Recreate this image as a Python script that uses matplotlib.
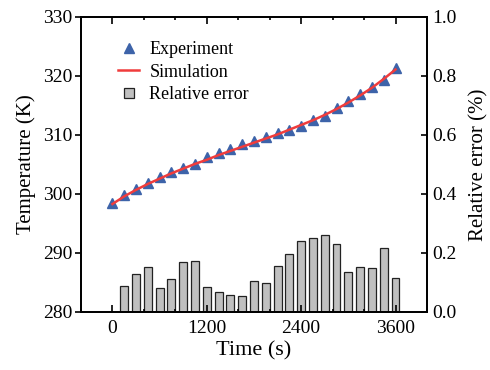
import numpy as np
import matplotlib as mpl
mpl.use('Agg')
import matplotlib.pyplot as plt
from matplotlib.ticker import MultipleLocator
from matplotlib.lines import Line2D

# ---- data ----
t_exp = [0, 150, 300, 450, 600, 750, 900, 1050, 1200, 1350, 1500, 1650, 1800,
         1950, 2100, 2250, 2400, 2550, 2700, 2850, 3000, 3150, 3300, 3450, 3600]
T_exp = [298.5, 299.8, 300.8, 301.8, 302.9, 303.8, 304.4, 305.1, 306.3, 307.0,
         307.6, 308.4, 309.0, 309.6, 310.3, 310.9, 311.6, 312.5, 313.3, 314.5,
         315.8, 317.0, 318.1, 319.3, 321.3]
T_sim = [298.3, 299.6, 300.7, 301.7, 302.6, 303.5, 304.3, 305.1, 305.8, 306.6,
         307.3, 308.0, 308.7, 309.4, 310.1, 310.9, 311.7, 312.5, 313.4, 314.4,
         315.5, 316.7, 318.0, 319.5, 321.1]
t_err = t_exp[1:]
rel_err = [0.088, 0.128, 0.154, 0.080, 0.113, 0.170, 0.174, 0.086, 0.069, 0.059,
           0.055, 0.104, 0.098, 0.155, 0.197, 0.242, 0.252, 0.261, 0.232, 0.137,
           0.153, 0.150, 0.218, 0.116]

clr_tri = '#3d63a9'
clr_sim = '#f03c3c'
clr_bar = '#c0c0c0'

plt.rcParams['font.family'] = ['Liberation Serif', 'DejaVu Serif']
plt.rcParams['mathtext.fontset'] = 'stix'

fig = plt.figure(figsize=(4.9, 3.7), dpi=100)
ax1 = fig.add_axes([0.1653, 0.1568, 0.7061, 0.7973])
ax2 = ax1.twinx()

# bars on the right axis
ax2.bar(t_err, rel_err, width=100, color=clr_bar, edgecolor='#222222', linewidth=0.9)
ax2.set_ylim(0, 1.0)
ax2.yaxis.set_major_locator(MultipleLocator(0.2))
ax2.set_ylabel('Relative error (%)', fontsize=15, labelpad=9)

# temperature on the left axis
ax1.plot(t_exp, T_exp, ls='none', marker='^', ms=7.5, color=clr_tri, mec=clr_tri, zorder=3)
ax1.plot(t_exp, T_sim, color=clr_sim, lw=1.8, zorder=4)
ax1.set_zorder(ax2.get_zorder() + 1)
ax1.patch.set_visible(False)

ax1.set_xlim(-400, 4000)
ax1.set_ylim(280, 330)
ax1.xaxis.set_major_locator(MultipleLocator(1200))
ax1.xaxis.set_minor_locator(MultipleLocator(400))
ax1.yaxis.set_major_locator(MultipleLocator(10))
ax1.set_xlabel('Time (s)', fontsize=16, labelpad=3)
ax1.set_ylabel('Temperature (K)', fontsize=15, labelpad=5)

ax1.tick_params(axis='x', which='major', direction='in', length=5, width=1.2,
                top=True, labelsize=14, pad=6)
ax1.tick_params(axis='x', which='minor', direction='in', length=2.5, width=1.2, top=True)
ax1.tick_params(axis='y', direction='out', length=4, width=1.2, labelsize=14, pad=2)
ax2.tick_params(axis='y', direction='in', length=4, width=1.2, labelsize=14, pad=4)

for ax in (ax1, ax2):
    for sp in ax.spines.values():
        sp.set_linewidth(1.3)

handles = [Line2D([], [], ls='none', marker='^', ms=7.5, color=clr_tri),
           Line2D([], [], color=clr_sim, lw=1.8),
           Line2D([], [], ls='none', marker='s', ms=7.5, mfc=clr_bar,
                  mec='#222222', mew=0.9)]
labels = ['Experiment', 'Simulation', 'Relative error']
ax1.legend(handles, labels, loc='upper left', bbox_to_anchor=(0.075, 0.955),
           frameon=False, fontsize=13, handlelength=1.2, handletextpad=0.55,
           labelspacing=0.3, borderaxespad=0.2)

plt.savefig('out.png', dpi=100)
plt.close(fig)
